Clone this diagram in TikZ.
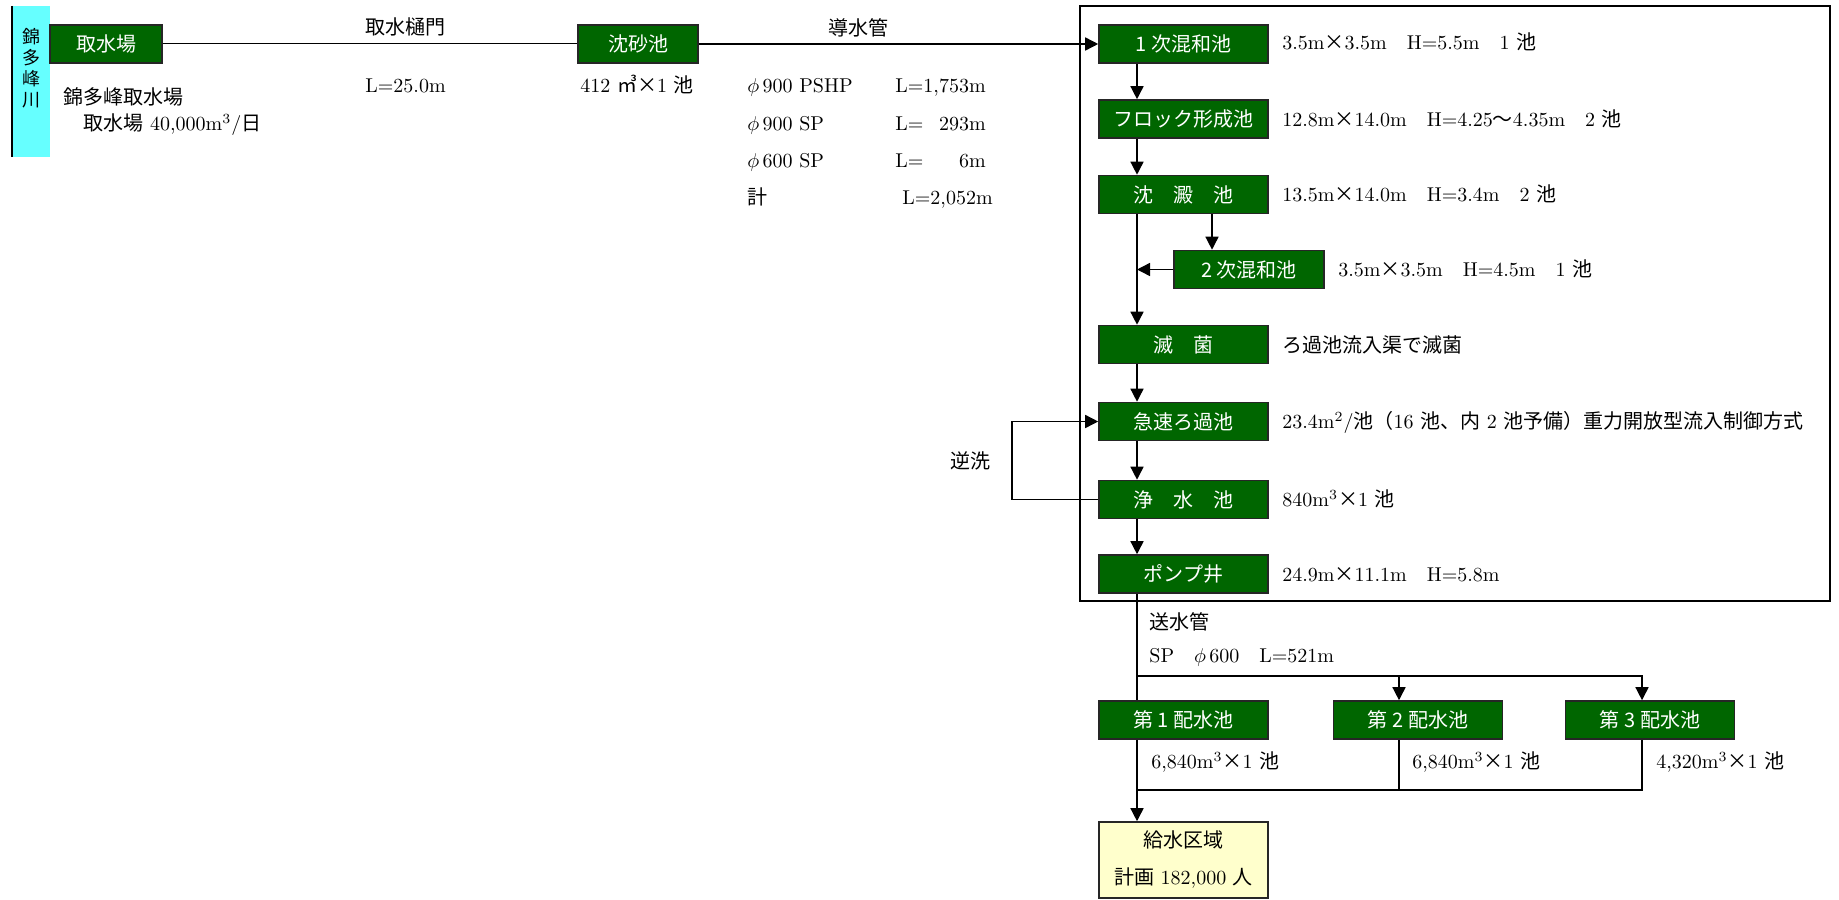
\documentclass[tikz,border=0pt]{standalone}
\usepackage{fontspec}
\newfontfamily\jp{Noto Sans CJK JP}
\usetikzlibrary{arrows.meta}

\definecolor{tankgreen}{RGB}{0,102,0}
\definecolor{rivercyan}{RGB}{102,255,255}
\definecolor{areayellow}{RGB}{255,255,204}

\newcommand{\ja}[1]{{\jp #1}}
\newcommand{\by}{\ja{×}}

\begin{document}
\begin{tikzpicture}[
  x=0.5pt, y=-0.5pt,
  tank/.style={
    draw=black!85, line width=0.8pt, fill=tankgreen, text=white,
    font=\jp\fontsize{10}{12}\selectfont,
    minimum width=84.5pt, minimum height=19pt, inner sep=0pt,
    text height=8.8pt, text depth=1.2pt
  },
  supply/.style={
    draw=black!85, line width=0.8pt, fill=areayellow,
    minimum width=84.5pt, minimum height=38pt, inner sep=0pt,
    align=center, font=\fontsize{10}{18.5}\selectfont
  },
  note/.style={
    anchor=west, inner sep=0pt, font=\fontsize{10}{12}\selectfont,
    text height=8.8pt, text depth=1.2pt
  },
  pipe/.style={line width=0.75pt},
  flow/.style={pipe, -{Triangle[length=6.5pt, width=6.5pt]}}
]
\useasboundingbox (0,0) rectangle (1839,899);

% river
\fill[rivercyan] (12,6) rectangle (50,157);
\draw[line width=1pt] (12,6) -- (12,157);
\node[font=\jp\fontsize{9}{10.5}\selectfont, align=center, inner sep=0pt] (river) at (31,68) {錦\\多\\峰\\川};

% plant frame
\draw[line width=0.8pt] (1080,6) rectangle (1830,601);

% helper lines
\coordinate (trunk) at (1137,0);
\coordinate (side) at (1212,0);
\coordinate (wash) at (1012,0);
\coordinate (drop2) at (1399,0);
\coordinate (drop3) at (1642,0);
\coordinate (split) at (0,676);
\coordinate (merge) at (0,790);

% boxes
\node[tank, minimum width=56pt] (intake) at (106,44) {取水場};
\node[tank, minimum width=60pt] (grit) at (638,44) {沈砂池};
\node[tank] (mix1) at (1183.5,44) {1 次混和池};
\node[tank] (floc) at (1183.5,119) {フロック形成池};
\node[tank] (sed) at (1183.5,194.5) {沈　澱　池};
\node[tank, minimum width=75pt] (mix2) at (1249,269.5) {2 次混和池};
\node[tank] (disinf) at (1183.5,344.5) {滅　菌};
\node[tank] (filter) at (1183.5,421.5) {急速ろ過池};
\node[tank] (clear) at (1183.5,499.5) {浄　水　池};
\node[tank] (pump) at (1183.5,574) {ポンプ井};
\node[tank] (res1) at (1183.5,720) {第 1 配水池};
\node[tank] (res2) at (1418,720) {第 2 配水池};
\node[tank] (res3) at (1650,720) {第 3 配水池};
\node[supply] (area) at (1183.5,860) {\ja{給水区域}\\\ja{計画} 182,000 \ja{人}};

% conveyance
\draw[line width=0.5pt] (intake.east) -- (grit.west);
\draw[flow] (grit.east) -- (mix1.west);

% treatment line
\draw[flow] (mix1.south -| trunk) -- (floc.north -| trunk);
\draw[flow] (floc.south -| trunk) -- (sed.north -| trunk);
\draw[flow] (sed.south -| side) -- (mix2.north -| side);
\draw[flow] (mix2.west) -- (mix2.west -| trunk);
\draw[flow] (sed.south -| trunk) -- (disinf.north -| trunk);
\draw[flow] (disinf.south -| trunk) -- (filter.north -| trunk);
\draw[flow] (filter.south -| trunk) -- (clear.north -| trunk);
\draw[flow] (clear.south -| trunk) -- (pump.north -| trunk);
\draw[flow] (clear.west) -| (wash |- filter) -- (filter.west);

% distribution
\draw[pipe] (pump.south -| trunk) -- (res1.north -| trunk);
\draw[flow] (split -| trunk) -| (res3.north -| drop3);
\draw[flow] (split -| drop2) -- (res2.north -| drop2);
\draw[pipe] (res2.south -| drop2) |- (merge -| trunk);
\draw[pipe] (res3.south -| drop3) |- (merge -| trunk);
\draw[flow] (res1.south -| trunk) -- (area.north -| trunk);

% labels, intake side
\node[note] (intakename) at (63,97) {\ja{錦多峰取水場}};
\node[note] (intakecap) at (83,123) {\ja{取水場} 40,000m$^3$/\ja{日}};
\node[note] (gate) at (365,27) {\ja{取水樋門}};
\node[note] (gatelen) at (365,85) {L=25.0m};
\node[note] (gritcap) at (580,85) {412 \ja{㎥}\by1 \ja{池}};
\node[note, anchor=center] (conduit) at (858,28) {\ja{導水管}};
\node[note] (pipe1) at (747,85) {$\phi$\,900 PSHP};
\node[note] (pipe2) at (747,123) {$\phi$\,900 SP};
\node[note] (pipe3) at (747,160) {$\phi$\,600 SP};
\node[note] (pipesum) at (747,197) {\ja{計}};
\node[note] (len1) at (895,85) {L=1,753m};
\node[note] (len2) at (895,123) {L=\hphantom{1,}293m};
\node[note] (len3) at (895,160) {L=\hphantom{1,75}6m};
\node[note] (lensum) at (902,197) {L=2,052m};

% labels, plant
\node[note] (mix1spec) at (1282,42) {3.5m\by3.5m\quad H=5.5m\quad 1 \ja{池}};
\node[note] (flocspec) at (1282,119) {12.8m\by14.0m\quad H=4.25\ja{～}4.35m\quad 2 \ja{池}};
\node[note] (sedspec) at (1282,194) {13.5m\by14.0m\quad H=3.4m\quad 2 \ja{池}};
\node[note] (mix2spec) at (1338,269) {3.5m\by3.5m\quad H=4.5m\quad 1 \ja{池}};
\node[note] (disinfspec) at (1282,345) {\ja{ろ過池流入渠で滅菌}};
\node[note] (filterspec) at (1282,421) {23.4m$^2$/\ja{池（}16 \ja{池、内} 2 \ja{池予備）重力開放型流入制御方式}};
\node[note] (clearspec) at (1282,499) {840m$^3$\by1 \ja{池}};
\node[note] (pumpspec) at (1282,574) {24.9m\by11.1m\quad H=5.8m};
\node[note, anchor=center] (washname) at (970,461) {\ja{逆洗}};

% labels, distribution
\node[note] (sendname) at (1149,622) {\ja{送水管}};
\node[note] (sendspec) at (1149,655) {SP\quad$\phi$\,600\quad L=521m};
\node[note] (res1cap) at (1151,761) {6,840m$^3$\by1 \ja{池}};
\node[note] (res2cap) at (1412,761) {6,840m$^3$\by1 \ja{池}};
\node[note] (res3cap) at (1656,761) {4,320m$^3$\by1 \ja{池}};

\end{tikzpicture}
\end{document}
